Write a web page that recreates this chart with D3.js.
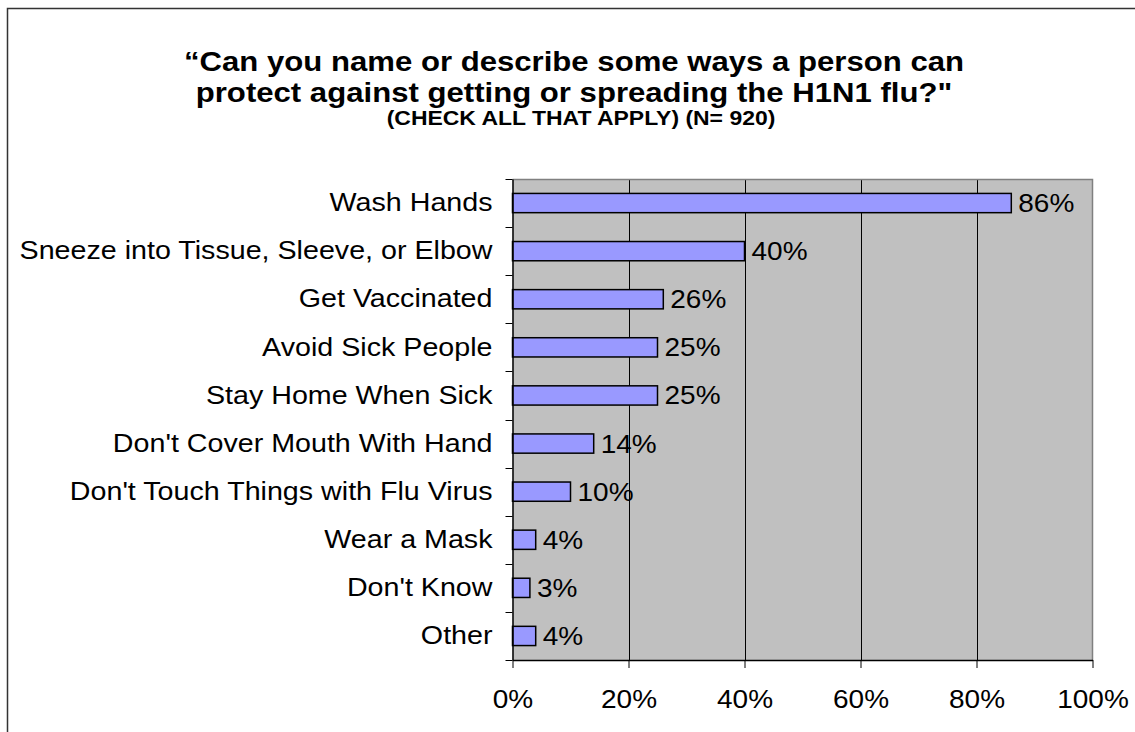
<!DOCTYPE html>
<html>
<head>
<meta charset="utf-8">
<script src="https://cdn.jsdelivr.net/npm/d3@7"></script>
<style>
  html, body { margin: 0; padding: 0; background: #fff; }
  svg { display: block; font-family: "Liberation Sans", Arial, sans-serif; }
</style>
</head>
<body>
<svg id="chart" width="1135" height="732"></svg>
<script>
const categories = [
  "Wash Hands",
  "Sneeze into Tissue, Sleeve, or Elbow",
  "Get Vaccinated",
  "Avoid Sick People",
  "Stay Home When Sick",
  "Don't Cover Mouth With Hand",
  "Don't Touch Things with Flu Virus",
  "Wear a Mask",
  "Don't Know",
  "Other"
];
const values = [86, 40, 26, 25, 25, 14, 10, 4, 3, 4];
const xTicks = [0, 20, 40, 60, 80, 100];
const titleLines = [
  "\u201CCan you name or describe some ways a person can",
  "protect against getting or spreading the H1N1 flu?\""
];
const subtitle = "(CHECK ALL THAT APPLY) (N= 920)";

(function () {
const SX = 1.12; // horizontal stretch of the original rendering
const svg = d3.select("#chart");

// outer frame
svg.append("rect")
  .attr("x", 7.5).attr("y", 8.5)
  .attr("width", 1300).attr("height", 900)
  .attr("fill", "#fff").attr("stroke", "#333").attr("stroke-width", 1.5);

const pL = 512.5, pR = 1092.5, pT = 179, pB = 660;

const x = d3.scaleLinear().domain([0, 100]).range([pL, pR]);
const y = d3.scaleBand().domain(categories).range([pT, pB])
  .paddingInner(0.6).paddingOuter(0.3);

// plot background
svg.append("rect")
  .attr("x", pL).attr("y", pT)
  .attr("width", pR - pL).attr("height", pB - pT)
  .attr("fill", "#C0C0C0");

// gridlines
svg.append("g").selectAll("line")
  .data(xTicks.filter(d => d > 0 && d < 100))
  .join("line")
  .attr("x1", d => Math.round(x(d)) + 0.5).attr("x2", d => Math.round(x(d)) + 0.5)
  .attr("y1", pT).attr("y2", pB)
  .attr("stroke", "#000").attr("stroke-width", 1);

// plot border top/right (gray)
svg.append("path")
  .attr("d", `M${pL},${pT + 0.5}H${pR}V${pB}`)
  .attr("fill", "none").attr("stroke", "#808080").attr("stroke-width", 1.5);

const rows = categories.map((c, i) => ({ c, v: values[i] }));

// bars
svg.append("g").selectAll("rect")
  .data(rows)
  .join("rect")
  .attr("x", x(0))
  .attr("y", d => y(d.c))
  .attr("width", d => x(d.v) - x(0))
  .attr("height", y.bandwidth())
  .attr("fill", "#9999FF")
  .attr("stroke", "#000").attr("stroke-width", 1.5);

// value labels
svg.append("g").selectAll("text")
  .data(rows)
  .join("text")
  .attr("transform", d => `translate(${x(d.v) + 7},${y(d.c) + y.bandwidth() / 2}) scale(${SX},1)`)
  .attr("dy", "0.36em")
  .attr("font-size", 25)
  .attr("fill", "#000")
  .text(d => d.v + "%");

// bottom axis
const xAxis = d3.axisBottom(x).tickValues(xTicks).tickFormat(d => d + "%").tickSize(8).tickSizeOuter(0);
const gx = svg.append("g").attr("transform", `translate(0,${pB})`).call(xAxis);
gx.select(".domain").attr("stroke", "#000").attr("stroke-width", 1.5);
gx.selectAll(".tick line").attr("stroke", "#000");
gx.selectAll(".tick text")
  .attr("font-size", 25).attr("font-family", "Liberation Sans, Arial, sans-serif")
  .attr("fill", "#000")
  .attr("y", 0).attr("dy", 0)
  .attr("transform", `translate(0,48) scale(${SX},1)`);

// left axis (labels), ticks at band boundaries
const yAxis = d3.axisLeft(y).tickSize(0).tickPadding(0);
const gy = svg.append("g").attr("transform", `translate(${pL},0)`).call(yAxis);
gy.select(".domain").attr("stroke", "#000").attr("stroke-width", 1.5);
gy.selectAll(".tick text")
  .attr("font-size", 25.6).attr("font-family", "Liberation Sans, Arial, sans-serif")
  .attr("fill", "#000")
  .attr("x", 0)
  .attr("transform", `translate(-20,0) scale(${SX},1)`);

const boundaries = d3.range(categories.length + 1).map(i => pT + i * y.step());
svg.append("g").selectAll("line")
  .data(boundaries)
  .join("line")
  .attr("x1", pL - 7).attr("x2", pL)
  .attr("y1", d => Math.round(d) + 0.5).attr("y2", d => Math.round(d) + 0.5)
  .attr("stroke", "#000").attr("stroke-width", 1);

// title
const cx = 574;
svg.append("g").selectAll("text")
  .data(titleLines)
  .join("text")
  .attr("transform", (d, i) => `translate(${cx},${71 + i * 31}) scale(${SX},1)`)
  .attr("text-anchor", "middle")
  .attr("font-size", 27.8).attr("font-weight", "bold")
  .attr("fill", "#000")
  .text(d => d);

svg.append("text")
  .attr("transform", `translate(${cx + 7},125) scale(${SX},1)`)
  .attr("text-anchor", "middle")
  .attr("font-size", 20.5).attr("font-weight", "bold")
  .attr("fill", "#000")
  .text(subtitle);
})();
</script>
</body>
</html>
